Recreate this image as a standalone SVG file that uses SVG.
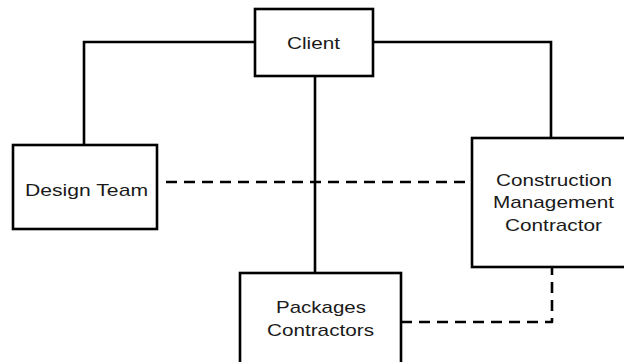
<svg xmlns="http://www.w3.org/2000/svg" width="624" height="362" viewBox="0 0 624 362">
<style>
.box{fill:#fff;stroke:#000;stroke-width:2.6}
.ln{fill:none;stroke:#000;stroke-width:2.6}
.dash{fill:none;stroke:#000;stroke-width:2.6;stroke-dasharray:11 7;stroke-linejoin:round}
text{font-family:"Liberation Sans",Arial,sans-serif;font-size:17px;fill:#1a1a1a;text-anchor:middle}
</style>
<rect width="624" height="362" fill="#fff"/>
<g id="connectors">
<polyline class="ln" points="255,42 84,42 84,145"/>
<polyline class="ln" points="373,42 551,42 551,138"/>
<line class="ln" x1="315" y1="76" x2="315" y2="273"/>
<line class="dash" x1="166" y1="182" x2="472" y2="182"/>
<polyline class="dash" points="401,322 552,322 552,267"/>
</g>
<g id="client">
<rect class="box" x="255" y="9" width="118" height="67"/>
<text x="313.5" y="49" textLength="53" lengthAdjust="spacingAndGlyphs">Client</text>
</g>
<g id="design-team">
<rect class="box" x="13" y="145" width="144" height="84"/>
<text x="86.5" y="195.7" textLength="123" lengthAdjust="spacingAndGlyphs">Design Team</text>
</g>
<g id="cmc">
<rect class="box" x="472" y="138" width="160" height="129"/>
<text x="554" y="186" textLength="116" lengthAdjust="spacingAndGlyphs">Construction</text>
<text x="553.5" y="208" textLength="121" lengthAdjust="spacingAndGlyphs">Management</text>
<text x="553.5" y="231" textLength="97" lengthAdjust="spacingAndGlyphs">Contractor</text>
</g>
<g id="packages">
<rect class="box" x="240" y="273" width="161" height="100"/>
<text x="321" y="313" textLength="90" lengthAdjust="spacingAndGlyphs">Packages</text>
<text x="320.5" y="336" textLength="107" lengthAdjust="spacingAndGlyphs">Contractors</text>
</g>
</svg>
